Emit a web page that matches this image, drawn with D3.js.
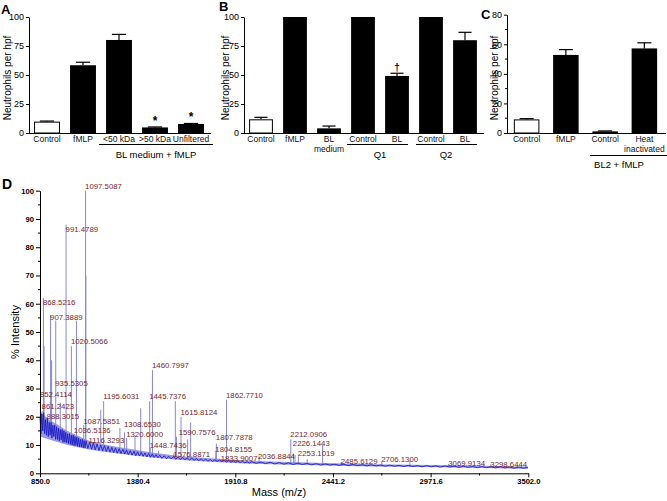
<!DOCTYPE html>
<html><head><meta charset="utf-8">
<script src="https://cdn.jsdelivr.net/npm/d3@7"></script>
<style>body{margin:0;background:#fff} svg{display:block;font-family:"Liberation Sans",Arial,sans-serif}</style>
</head><body><svg id="c" width="667" height="501"></svg>
<script>
// ---------- Panel A ----------
const aCats = ["Control","fMLP","<50 kDa",">50 kDa","Unfiltered"];
const aVals = [9.8, 58.4, 80.2, 4.8, 7.8];
const aErrs = [0.5, 2.6, 4.8, 0.4, 0.4];
const aWhite = [true,false,false,false,false];
const aMarks = ["","","","*","*"];
const aTicks = [0,25,50,75,100];
// ---------- Panel B ----------
const bCats = [["Control"],["fMLP"],["BL","medium"],["Control"],["BL"],["Control"],["BL"]];
const bVals = [11.8, 100, 4, 100, 49.2, 100, 80];
const bErrs = [1.7, 0, 2, 0, 2.3, 0, 6.8];
const bWhite = [true,false,false,false,false,false,false];
const bMarks = ["","","","","\u2020","",""];
const bTicks = [0,25,50,75,100];
// ---------- Panel C ----------
const cCats = [["Control"],["fMLP"],["Control"],["Heat","inactivated"]];
const cVals = [9.2, 52.8, 1.1, 57.2];
const cErrs = [0.5, 3.6, 0.3, 3.8];
const cWhite = [true,false,false,false];
const cTicks = [0,20,40,60,80];
const cMinor = [10,30,50,70];
// ---------- Panel D (MS spectrum) ----------
const dXTicks = [850.0,1380.4,1910.8,2441.2,2971.6,3502.0];
const dXMinor = [1115.2,1645.6,2176.0,2706.4,3236.8];
const dYTicks = [0,10,20,30,40,50,60,70,80,90,100];
const dYMinor = [5,15,25,35,45,55,65,75,85,95];
const specBand = [[850,13,22],[900,12,19],[950,11,17],[1000,10,15],[1050,9.3,13.5],[1100,8.6,12],[1200,7.6,10.2],[1300,6.8,9],[1400,6,8],[1500,5.3,7],[1600,4.8,6.2],[1800,4,5.2],[2000,3.4,4.4],[2200,3,4],[2500,2.6,3.5],[3000,2.1,2.9],[3500,1.6,2.4]];
const specNoise = [[850,20],[855,14],[860,21],[865,15],[870,21.5],[875,14],[880,19],[885,13.5],[890,19.5],[895,13],[900,18],[905,13.5],[910,18],[915,12.5],[920,17],[925,13],[930,17],[935,12],[940,16.5],[945,12],[950,16],[955,11.5],[960,15.5],[965,11.8],[970,15.5],[975,11],[980,15],[985,11],[990,14.5],[995,10.8],[1000,14],[1005,10.5],[1010,14],[1015,10.3],[1020,13.5],[1025,10],[1030,13.5],[1035,9.8],[1040,13],[1045,9.8],[1050,12.8],[1055,9.5],[1060,12.5],[1065,9.3],[1070,12],[1075,9.3],[1080,12],[1085,9],[1090,11.6],[1095,9],[1100,11.5],[1110,8.8],[1120,11],[1130,8.5],[1140,10.8],[1150,8.3],[1160,10.4],[1170,8.1],[1180,10],[1190,7.9],[1200,9.8],[1210,7.7],[1220,9.5],[1230,7.5],[1240,9.2],[1250,7.3],[1260,9],[1270,7.1],[1280,8.7],[1290,7],[1300,8.5],[1310,6.8],[1320,8.2],[1330,6.6],[1340,8],[1350,6.4],[1360,7.8],[1370,6.2],[1380,7.6],[1390,6.1],[1400,7.4],[1410,6],[1420,7.2],[1430,5.8],[1440,7],[1450,5.7],[1460,6.8],[1470,5.6],[1480,6.6],[1490,5.5],[1500,6.4],[1512,5.3],[1525,6.2],[1537,5.2],[1550,6],[1562,5.1],[1575,5.9],[1587,5],[1600,5.7],[1612,4.9],[1625,5.6],[1637,4.8],[1650,5.4],[1662,4.7],[1675,5.3],[1687,4.6],[1700,5.2],[1712,4.5],[1725,5.1],[1737,4.4],[1750,5],[1762,4.3],[1775,4.9],[1787,4.2],[1800,4.8],[1812,4.2],[1825,4.7],[1837,4.1],[1850,4.6],[1862,4],[1875,4.5],[1887,3.9],[1900,4.4],[1912,3.9],[1925,4.3],[1937,3.8],[1950,4.2],[1962,3.7],[1975,4.1],[1987,3.6],[2000,4.1],[2025,3.5],[2050,4],[2075,3.4],[2100,3.9],[2125,3.3],[2150,3.8],[2175,3.2],[2200,3.7],[2225,3.1],[2250,3.6],[2275,3.1],[2300,3.5],[2325,3],[2350,3.4],[2375,2.9],[2400,3.3],[2425,2.9],[2450,3.2],[2475,2.8],[2500,3.2],[2525,2.7],[2550,3.1],[2575,2.7],[2600,3],[2625,2.6],[2650,3],[2675,2.6],[2700,2.9],[2725,2.5],[2750,2.9],[2775,2.5],[2800,2.8],[2825,2.4],[2850,2.8],[2875,2.4],[2900,2.7],[2925,2.3],[2950,2.7],[2975,2.3],[3000,2.6],[3025,2.2],[3050,2.6],[3075,2.2],[3100,2.5],[3125,2.1],[3150,2.5],[3175,2.1],[3200,2.4],[3225,2],[3250,2.4],[3275,2],[3300,2.3],[3325,1.9],[3350,2.3],[3375,1.9],[3400,2.2],[3425,1.8],[3450,2.2],[3475,1.8],[3500,2.1]];
const specPeaks = [[852.4,26],[861.2,22],[868.5,62],[872,45],[888.3,19],[907.4,56],[913,40],[935.5,54],[960,25],[991.5,88],[1020.5,45],[1036.5,14],[1048,54],[1087.6,17],[1097.5,100],[1099,70],[1116.3,11],[1180,22.5],[1195.6,25.5],[1284,16],[1308.7,14.5],[1320.6,12.5],[1366,13],[1397,23],[1445.7,25.5],[1448.7,9],[1460.8,36.5],[1493,8],[1576.9,7],[1585,25.5],[1590.8,13],[1615.8,20],[1652,12],[1668,18],[1804.8,8],[1807.8,10.5],[1833.9,5],[1862.8,26],[2040,6],[2212.1,12],[2226.1,7],[2235,6.5],[2253.1,6],[2301,5],[2385,10],[2485.6,4],[2706.1,4],[2859,4.5],[3069.9,3.3],[3298.6,3.2]];
// [label text, label x (m/z), label y (% intensity)]
const specLabels = [["1097.5087",1097.5,101.7],["991.4789",991.5,86.5],["868.5216",868.5,60.6],["907.3889",907.4,55.3],["1020.5066",1020.5,46.6],["1460.7997",1460.8,38.3],["935.5305",935.5,31.8],["852.4114",852.4,28],["1195.6031",1195.6,27.4],["1445.7376",1445.7,27.4],["1862.7710",1862.8,27.7],["861.2423",861.2,23.6],["1615.8124",1615.8,21.6],["888.3015",888.3,20.3],["1087.5851",1087.6,18.3],["1308.6530",1308.7,17.4],["1036.5136",1036.5,15.3],["1590.7576",1606,14.4],["1320.6000",1320.6,13.9],["1807.7878",1807.8,12.6],["1116.3293",1116.3,11.8],["2212.0906",2212.1,13.8],["2226.1443",2226.1,10.6],["1448.7436",1448.7,10],["1804.8155",1804.8,8.6],["2253.1019",2253.1,7.1],["1576.8871",1576.9,6.8],["1833.9007",1833.9,5.3],["2036.8844",2036.9,5.9],["2485.6129",2485.6,4.1],["2706.1300",2706.1,5],["3069.9134",3069.9,3.5],["3298.6444",3298.6,3.3]];

const svg = d3.select("#c");

function barPanel(o){
  const g = svg.append("g");
  const y = d3.scaleLinear([0,o.max],[o.y0,o.y1]);
  const x = d3.scaleBand(d3.range(o.vals.length),[o.x0,o.x1]).paddingInner(o.pi).paddingOuter(o.pi/2);
  const ax = g.append("g").attr("transform",`translate(${o.x0},0)`)
    .call(d3.axisLeft(y).tickValues(o.ticks).tickSize(3).tickSizeOuter(0).tickPadding(2));
  ax.selectAll("text").attr("font-size",9).attr("font-family","Liberation Sans, Arial");
  if(o.minor){
    g.selectAll(".mn").data(o.minor).enter().append("line")
      .attr("x1",o.x0-2).attr("x2",o.x0).attr("y1",d=>y(d)).attr("y2",d=>y(d)).attr("stroke","black");
  }
  g.append("line").attr("x1",o.x0).attr("x2",o.x1+2).attr("y1",y(0)+0.5).attr("y2",y(0)+0.5).attr("stroke","black");
  o.vals.forEach((v,i)=>{
    const bx = x(i), bw = x.bandwidth();
    if(o.errs[i]>0){
      const cw = bw*0.55;
      g.append("line").attr("x1",bx+bw/2).attr("x2",bx+bw/2).attr("y1",y(v)).attr("y2",y(v+o.errs[i])).attr("stroke","black").attr("stroke-width",1.2);
      g.append("line").attr("x1",bx+bw/2-cw/2).attr("x2",bx+bw/2+cw/2).attr("y1",y(v+o.errs[i])).attr("y2",y(v+o.errs[i])).attr("stroke","black").attr("stroke-width",1.2);
    }
    g.append("rect").attr("x",bx+(o.white[i]?0.5:0)).attr("width",bw-(o.white[i]?1:0))
      .attr("y",y(v)+(o.white[i]?0.5:0)).attr("height",y(0)-y(v)-(o.white[i]?0.5:0))
      .attr("fill",o.white[i]?"white":"black").attr("stroke",o.white[i]?"black":"none").attr("stroke-width",1);
    const lab = Array.isArray(o.cats[i])?o.cats[i]:[o.cats[i]];
    lab.forEach((t,k)=>g.append("text").attr("x",bx+bw/2).attr("y",o.y0+9+k*10).attr("text-anchor","middle")
      .attr("font-size",8.5).attr("fill","#111").text(t));
    if(o.marks && o.marks[i]){
      g.append("text").attr("x",bx+bw/2).attr("y",y(v+(o.errs[i]||0))-2).attr("text-anchor","middle")
        .attr("font-size",o.marks[i]==="*"?12:10).attr("font-weight","bold").text(o.marks[i]);
    }
  });
  g.append("text").attr("transform",`translate(${o.lx},78) rotate(-90)`).attr("text-anchor","middle")
    .attr("font-size",10).attr("dy","0.35em").text("Neutrophils per hpf");
  g.append("text").attr("x",o.letterX).attr("y",o.letterY).attr("font-size",13).attr("font-weight","bold").text(o.letter);
  return {g,x,y};
}

const A = barPanel({vals:aVals,errs:aErrs,white:aWhite,cats:aCats,marks:aMarks,ticks:aTicks,max:100,
  y0:133,y1:17,x0:29,x1:209,pi:0.28,lx:7,letter:"A",letterX:1,letterY:14});
A.g.append("line").attr("x1",99).attr("x2",213).attr("y1",144.5).attr("y2",144.5).attr("stroke","black");
A.g.append("text").attr("x",156).attr("y",158).attr("text-anchor","middle").attr("font-size",9.5).text("BL medium + fMLP");

const B = barPanel({vals:bVals,errs:bErrs,white:bWhite,cats:bCats,marks:bMarks,ticks:bTicks,max:100,
  y0:133,y1:17,x0:244,x1:482,pi:0.3,lx:225,letter:"B",letterX:219,letterY:11});
B.g.append("line").attr("x1",347).attr("x2",408).attr("y1",144.5).attr("y2",144.5).attr("stroke","black");
B.g.append("text").attr("x",380).attr("y",158).attr("text-anchor","middle").attr("font-size",9.5).text("Q1");
B.g.append("line").attr("x1",416).attr("x2",477).attr("y1",144.5).attr("y2",144.5).attr("stroke","black");
B.g.append("text").attr("x",446).attr("y",158).attr("text-anchor","middle").attr("font-size",9.5).text("Q2");

const C = barPanel({vals:cVals,errs:cErrs,white:cWhite,cats:cCats,ticks:cTicks,minor:cMinor,max:80,
  y0:133,y1:14.7,x0:507,x1:664,pi:0.35,lx:494,letter:"C",letterX:481,letterY:19});
C.g.append("line").attr("x1",590).attr("x2",667).attr("y1",155.5).attr("y2",155.5).attr("stroke","black");
C.g.append("text").attr("x",619).attr("y",168).attr("text-anchor","middle").attr("font-size",9.5).text("BL2 + fMLP");

// ---------- Panel D ----------
const gd = svg.append("g");
const xd = d3.scaleLinear([850,3502],[40,528.3]);
const yd = d3.scaleLinear([0,100],[473.3,190.7]);
const bis = d3.bisector(d=>d[0]).left;
function foot(m){ const i = Math.max(0,Math.min(specNoise.length-1,bis(specNoise,m))); return specNoise[i][1]; }
gd.append("path").datum(specBand).attr("fill","#4545d2").attr("fill-opacity",0.55)
  .attr("d",d3.area().x(d=>xd(d[0])).y0(d=>yd(d[1])).y1(d=>yd(d[2])).curve(d3.curveMonotoneX));
gd.selectAll(".pk").data(specPeaks).enter().append("line")
  .attr("x1",d=>xd(d[0])).attr("x2",d=>xd(d[0])).attr("y1",d=>yd(foot(d[0]))).attr("y2",d=>yd(d[1]))
  .attr("stroke","#8686de").attr("stroke-width",1);
gd.append("path").datum(specNoise).attr("fill","none").attr("stroke","#1e1ec4").attr("stroke-width",0.9)
  .attr("d",d3.line().x(d=>xd(d[0])).y(d=>yd(d[1])));
const axY = gd.append("g").attr("transform","translate(40,0)")
  .call(d3.axisLeft(yd).tickValues(dYTicks).tickFormat(d3.format("d")).tickSize(4).tickSizeOuter(0).tickPadding(2));
const axX = gd.append("g").attr("transform","translate(0,473.3)")
  .call(d3.axisBottom(xd).tickValues(dXTicks).tickFormat(d3.format(".1f")).tickSize(4).tickSizeOuter(0).tickPadding(1));
[axY,axX].forEach(a=>a.selectAll("text").attr("font-size",7.6).attr("font-weight","bold").attr("font-family","Liberation Sans, Arial"));
gd.selectAll(".ym").data(dYMinor).enter().append("line").attr("x1",38).attr("x2",40).attr("y1",d=>yd(d)).attr("y2",d=>yd(d)).attr("stroke","black");
gd.selectAll(".xm").data(dXMinor).enter().append("line").attr("y1",473.3).attr("y2",475.5).attr("x1",d=>xd(d)).attr("x2",d=>xd(d)).attr("stroke","black");
gd.selectAll(".lb").data(specLabels).enter().append("text")
  .attr("x",d=>xd(d[1])-0.5).attr("y",d=>yd(d[2])).attr("dy","0.35em")
  .attr("font-size",7.8).attr("fill","#7d1f2a").text(d=>d[0]);
gd.append("text").attr("transform","translate(15,332) rotate(-90)").attr("text-anchor","middle").attr("dy","0.35em")
  .attr("font-size",11).text("% Intensity");
gd.append("text").attr("x",279).attr("y",496).attr("text-anchor","middle").attr("font-size",11).text("Mass (m/z)");
gd.append("text").attr("x",2).attr("y",189).attr("font-size",14).attr("font-weight","bold").text("D");
</script></body></html>
